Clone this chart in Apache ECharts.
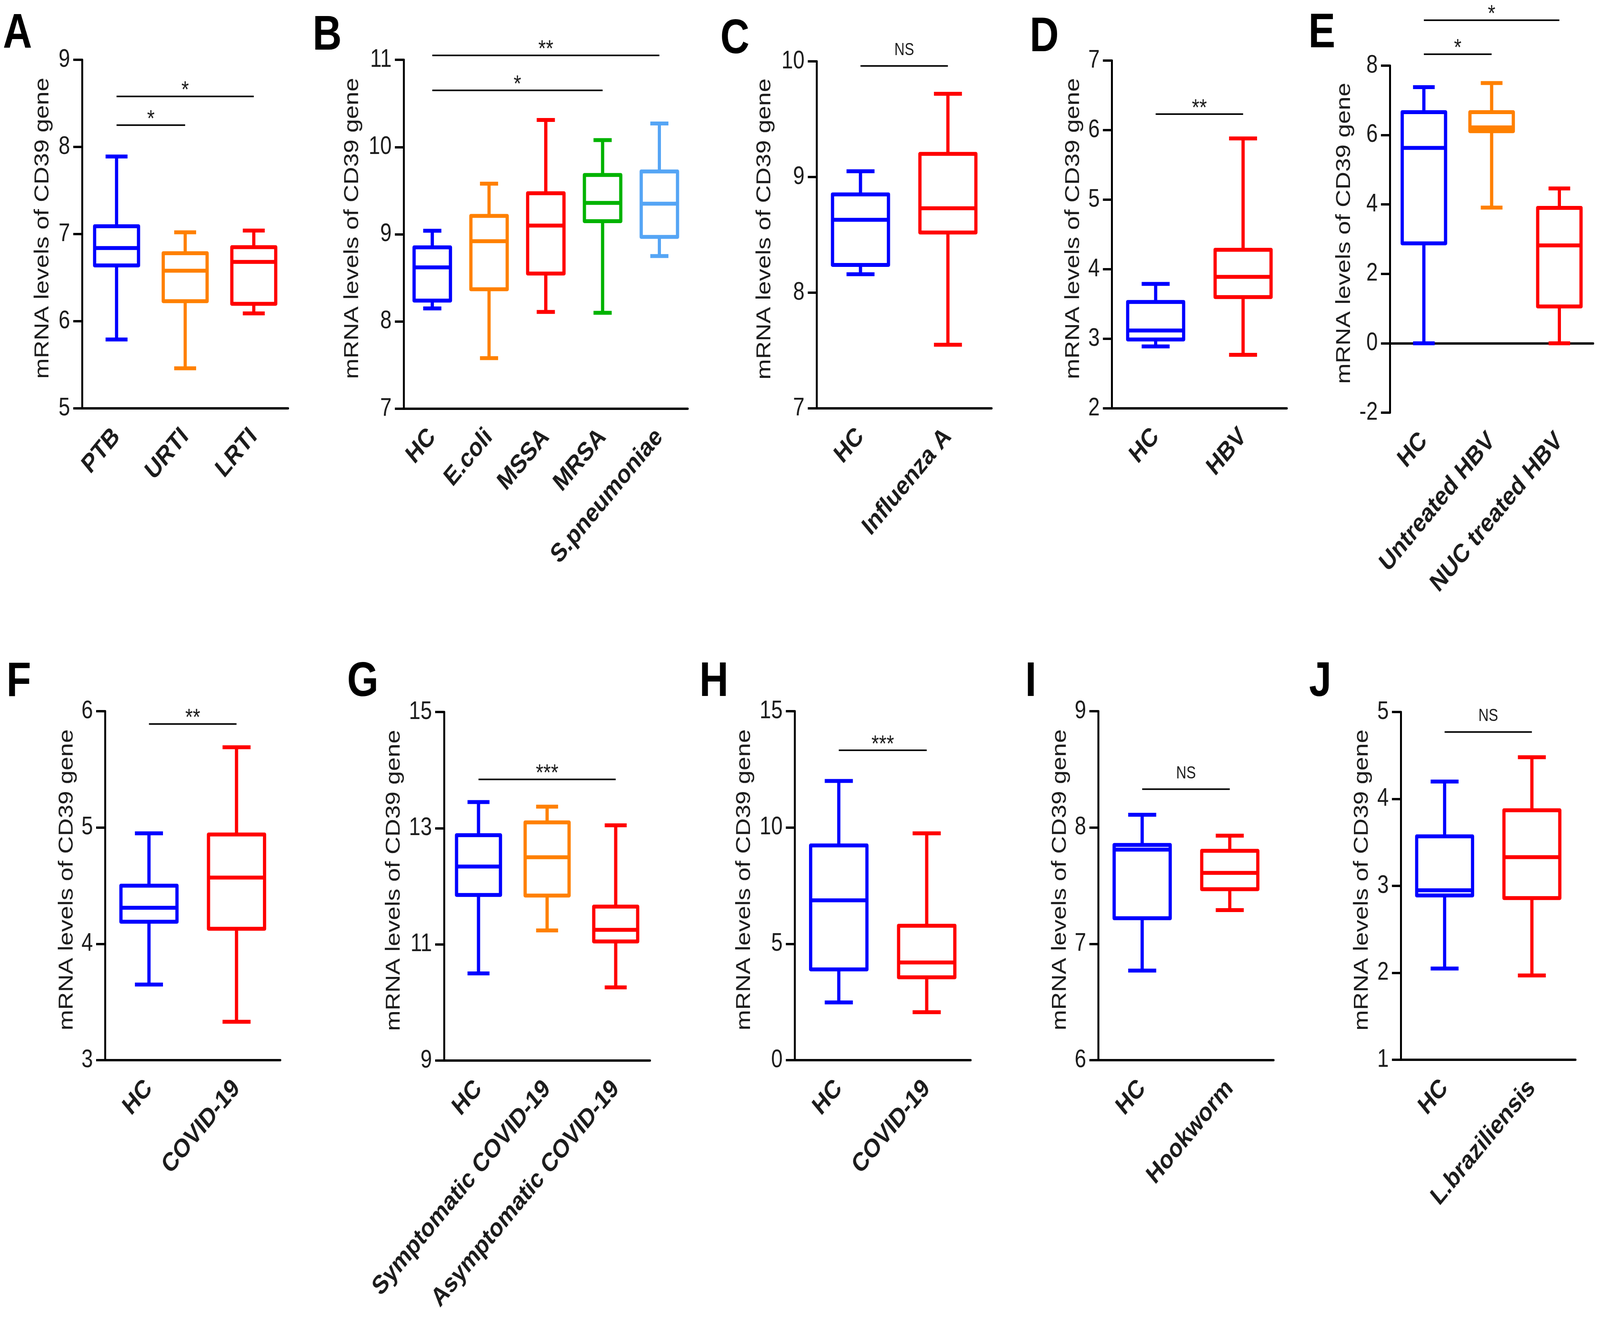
<!DOCTYPE html>
<html>
<head>
<meta charset="utf-8">
<script src="https://cdn.jsdelivr.net/npm/echarts@6/dist/echarts.min.js"></script>
<style>
  html, body { margin: 0; padding: 0; background: #fff; overflow: hidden; }
  #wrap { position: fixed; left: 0; top: 0; width: 100vw; height: 100vh; overflow: hidden; background: #fff; }
  #chart { width: 4960px; height: 3424px; transform-origin: 0 0; }
</style>
</head>
<body>
<div id="wrap"><div id="chart"></div></div>
<script>
(function () {
  'use strict';

  var BLUE = '#0000FF', ORANGE = '#FF8000', RED = '#FF0000', GREEN = '#00B300', SKY = '#55A5F5';
  var FONT = '"Liberation Sans", Arial, sans-serif';
  var INK = '#1c1c1c';

  // each box: [min, q1, median, q3, max]
  // each bracket: [fromIndex, toIndex, y, label]
  var catsA = ['PTB', 'URTI', 'LRTI'];
  var boxA = [[5.79, 6.64, 6.84, 7.09, 7.89], [5.46, 6.23, 6.58, 6.78, 7.02], [6.09, 6.20, 6.68, 6.85, 7.04]];
  var sigA = [[0, 1, 8.25, '*'], [0, 2, 8.58, '*']];
  var ticksA = [5, 6, 7, 8, 9];

  var catsB = ['HC', 'E.coli', 'MSSA', 'MRSA', 'S.pneumoniae'];
  var boxB = [[8.15, 8.24, 8.62, 8.85, 9.04], [7.58, 8.37, 8.92, 9.21, 9.58], [8.11, 8.55, 9.10, 9.47, 10.31],
              [8.10, 9.15, 9.36, 9.68, 10.08], [8.75, 8.97, 9.35, 9.72, 10.27]];
  var sigB = [[0, 3, 10.65, '*'], [0, 4, 11.05, '**']];
  var ticksB = [7, 8, 9, 10, 11];

  var catsC = ['HC', 'Influenza A'];
  var boxC = [[8.16, 8.24, 8.63, 8.85, 9.05], [7.55, 8.52, 8.73, 9.20, 9.72]];
  var sigC = [[0, 1, 9.96, 'NS']];
  var ticksC = [7, 8, 9, 10];

  var catsD = ['HC', 'HBV'];
  var boxD = [[2.89, 2.99, 3.12, 3.53, 3.79], [2.77, 3.60, 3.89, 4.28, 5.88]];
  var sigD = [[0, 1, 6.23, '**']];
  var ticksD = [2, 3, 4, 5, 6, 7];

  var catsE = ['HC', 'Untreated HBV', 'NUC treated HBV'];
  var boxE = [[0, 2.88, 5.63, 6.66, 7.38], [3.91, 6.11, 6.22, 6.66, 7.50], [0, 1.06, 2.82, 3.90, 4.46]];
  var sigE = [[0, 1, 8.33, '*'], [0, 2, 9.31, '*']];
  var ticksE = [-2, 0, 2, 4, 6, 8];

  var catsF = ['HC', 'COVID-19'];
  var boxF = [[3.65, 4.19, 4.31, 4.50, 4.95], [3.33, 4.13, 4.57, 4.94, 5.69]];
  var sigF = [[0, 1, 5.89, '**']];
  var ticksF = [3, 4, 5, 6];

  var catsG = ['HC', 'Symptomatic COVID-19', 'Asymptomatic COVID-19'];
  var boxG = [[10.50, 11.85, 12.34, 12.88, 13.45], [11.24, 11.84, 12.50, 13.10, 13.37], [10.26, 11.05, 11.25, 11.65, 13.05]];
  var sigG = [[0, 2, 13.84, '***']];
  var ticksG = [9, 11, 13, 15];

  var catsH = ['HC', 'COVID-19'];
  var boxH = [[2.48, 3.90, 6.87, 9.23, 12.0], [2.06, 3.56, 4.20, 5.78, 9.75]];
  var sigH = [[0, 1, 13.32, '***']];
  var ticksH = [0, 5, 10, 15];

  var catsI = ['HC', 'Hookworm'];
  var boxI = [[6.77, 7.22, 7.81, 7.85, 8.11], [7.29, 7.47, 7.61, 7.80, 7.93]];
  var sigI = [[0, 1, 8.33, 'NS']];
  var ticksI = [6, 7, 8, 9];

  var catsJ = ['HC', 'L.braziliensis'];
  var boxJ = [[2.05, 2.89, 2.95, 3.57, 4.20], [1.97, 2.86, 3.33, 3.87, 4.48]];
  var sigJ = [[0, 1, 4.77, 'NS']];
  var ticksJ = [1, 2, 3, 4, 5];

  var panels = [
    { tag: 'A', cats: catsA, box: boxA, sig: sigA, ticks: ticksA, colors: [BLUE, ORANGE, RED],
      left: 255, top: 153, width: 638, height: 892, nameGap: 91, letter: [9, 25] },
    { tag: 'B', cats: catsB, box: boxB, sig: sigB, ticks: ticksB, colors: [BLUE, ORANGE, RED, GREEN, SKY],
      left: 1252, top: 153, width: 880, height: 893, nameGap: 128, letter: [969, 30] },
    { tag: 'C', cats: catsC, box: boxC, sig: sigC, ticks: ticksC, colors: [BLUE, RED],
      left: 2532, top: 157, width: 542, height: 888, nameGap: 130, letter: [2233, 39] },
    { tag: 'D', cats: catsD, box: boxD, sig: sigD, ticks: ticksD, colors: [BLUE, RED],
      left: 3447, top: 155, width: 542, height: 890, nameGap: 88, letter: [3192, 34] },
    { tag: 'E', cats: catsE, box: boxE, sig: sigE, ticks: ticksE, colors: [BLUE, ORANGE, RED],
      left: 4309, top: 168, width: 630, height: 888, nameGap: 110, letter: [4056, 24], zeroLine: true },
    { tag: 'F', cats: catsF, box: boxF, sig: sigF, ticks: ticksF, colors: [BLUE, RED],
      left: 326, top: 1820, width: 543, height: 893, nameGap: 87, letter: [20, 1684] },
    { tag: 'G', cats: catsG, box: boxG, sig: sigG, ticks: ticksG, colors: [BLUE, ORANGE, RED],
      left: 1377, top: 1822, width: 638, height: 892, nameGap: 124, letter: [1076, 1684] },
    { tag: 'H', cats: catsH, box: boxH, sig: sigH, ticks: ticksH, colors: [BLUE, RED],
      left: 2464, top: 1820, width: 545, height: 893, nameGap: 125, letter: [2168, 1684] },
    { tag: 'I', cats: catsI, box: boxI, sig: sigI, ticks: ticksI, colors: [BLUE, RED],
      left: 3405, top: 1820, width: 543, height: 893, nameGap: 87, letter: [3178, 1684] },
    { tag: 'J', cats: catsJ, box: boxJ, sig: sigJ, ticks: ticksJ, colors: [BLUE, RED],
      left: 4343, top: 1822, width: 541, height: 890, nameGap: 89, letter: [4058, 1684] }
  ];

  function boxRenderer(colors) {
    return function (params, api) {
      var i = api.value(0);
      var band = api.size([1, 0])[0];
      var hw = band * 0.32, cw = hw * 0.5;
      var pMin = api.coord([i, api.value(1)]);
      var pQ1 = api.coord([i, api.value(2)]);
      var pMed = api.coord([i, api.value(3)]);
      var pQ3 = api.coord([i, api.value(4)]);
      var pMax = api.coord([i, api.value(5)]);
      var cx = pMed[0];
      var c = colors[i];
      function seg(x1, y1, x2, y2) {
        return { type: 'line', shape: { x1: x1, y1: y1, x2: x2, y2: y2 },
                 style: { stroke: c, lineWidth: 10, fill: null } };
      }
      return {
        type: 'group',
        children: [
          seg(cx, pQ3[1], cx, pMax[1]),
          seg(cx, pQ1[1], cx, pMin[1]),
          seg(cx - cw, pMax[1], cx + cw, pMax[1]),
          seg(cx - cw, pMin[1], cx + cw, pMin[1]),
          { type: 'rect', shape: { x: cx - hw, y: pQ3[1], width: hw * 2, height: pQ1[1] - pQ3[1] },
            style: { stroke: c, lineWidth: 10, fill: 'none', lineJoin: 'round' } },
          seg(cx - hw, pMed[1], cx + hw, pMed[1])
        ]
      };
    };
  }

  function sigRenderer(sig) {
    return function (params, api) {
      var y = api.value(2);
      var p1 = api.coord([api.value(0), y]);
      var p2 = api.coord([api.value(1), y]);
      var label = sig[params.dataIndex][3];
      var isNS = label === 'NS';
      return {
        type: 'group',
        children: [
          { type: 'line', shape: { x1: p1[0], y1: p1[1], x2: p2[0], y2: p2[1] },
            style: { stroke: '#000', lineWidth: 4 } },
          { type: 'text', x: (p1[0] + p2[0]) / 2, y: p1[1] + (isNS ? -18 : 16),
            style: { text: label, fill: INK, font: (isNS ? '44px ' : '60px ') + FONT,
                     textAlign: 'center', textVerticalAlign: 'bottom', align: 'center', verticalAlign: 'bottom' } }
        ]
      };
    };
  }

  var grid = [], xAxis = [], yAxis = [], series = [], graphic = [];

  panels.forEach(function (p, k) {
    grid.push({ left: p.left, top: p.top, width: p.width, height: p.height });

    xAxis.push({
      type: 'category', gridIndex: k, data: p.cats, boundaryGap: true,
      axisLine: { lineStyle: { color: '#000', width: 6 } },
      axisTick: { alignWithLabel: true, length: 28, lineStyle: { color: '#000', width: 6 } },
      axisLabel: { rotate: 45, interval: 0, margin: 62, padding: [80, 0, 0, 0],
                   color: INK, fontFamily: FONT, fontWeight: 'bold', fontSize: 67 },
      splitLine: { show: false }
    });

    yAxis.push({
      type: 'value', gridIndex: k,
      min: p.ticks[0], max: p.ticks[p.ticks.length - 1], interval: p.ticks[1] - p.ticks[0],
      name: 'mRNA levels of CD39 gene', nameLocation: 'middle', nameGap: p.nameGap,
      nameTextStyle: { color: INK, fontFamily: FONT, fontSize: 63, padding: [0, 0, 0, 30] },
      axisLine: { show: true, lineStyle: { color: '#000', width: 6 } },
      axisTick: { show: true, length: 28, lineStyle: { color: '#000', width: 6 } },
      axisLabel: { margin: 38, color: INK, fontFamily: FONT, fontSize: 64 },
      splitLine: { show: false }
    });

    var boxSeries = {
      type: 'custom', xAxisIndex: k, yAxisIndex: k, clip: false, z: 3,
      renderItem: boxRenderer(p.colors),
      encode: { x: 0, y: [1, 2, 3, 4, 5] },
      data: p.box.map(function (b, i) { return [i].concat(b); })
    };
    if (p.zeroLine) {
      boxSeries.markLine = {
        silent: true, symbol: 'none', label: { show: false }, z: 1,
        lineStyle: { color: '#000', width: 6, type: [1, 17], cap: 'round' },
        data: [{ yAxis: 0 }]
      };
    }
    series.push(boxSeries);

    series.push({
      type: 'custom', xAxisIndex: k, yAxisIndex: k, clip: false, z: 4,
      renderItem: sigRenderer(p.sig),
      encode: { x: [0, 1], y: 2 },
      data: p.sig.map(function (s) { return [s[0], s[1], s[2]]; })
    });

    graphic.push({
      type: 'text', left: p.letter[0], top: p.letter[1],
      style: { text: p.tag, fill: '#000', font: 'bold 125px ' + FONT }
    });
  });

  // stretch the 4960x3424 figure over whatever window it is shown in
  var dom = document.getElementById('chart');
  var sx = (window.innerWidth / 4960) || 1;
  var sy = (window.innerHeight / 3424) || 1;
  dom.style.transform = 'scale(' + sx + ',' + sy + ')';

  var chart = echarts.init(dom, null, {
    renderer: 'canvas',
    devicePixelRatio: (window.devicePixelRatio || 1) * Math.max(sx, sy)
  });
  chart.setOption({
    backgroundColor: '#fff',
    animation: false,
    grid: grid,
    xAxis: xAxis,
    yAxis: yAxis,
    series: series,
    graphic: graphic
  });
})();
</script>
</body>
</html>
